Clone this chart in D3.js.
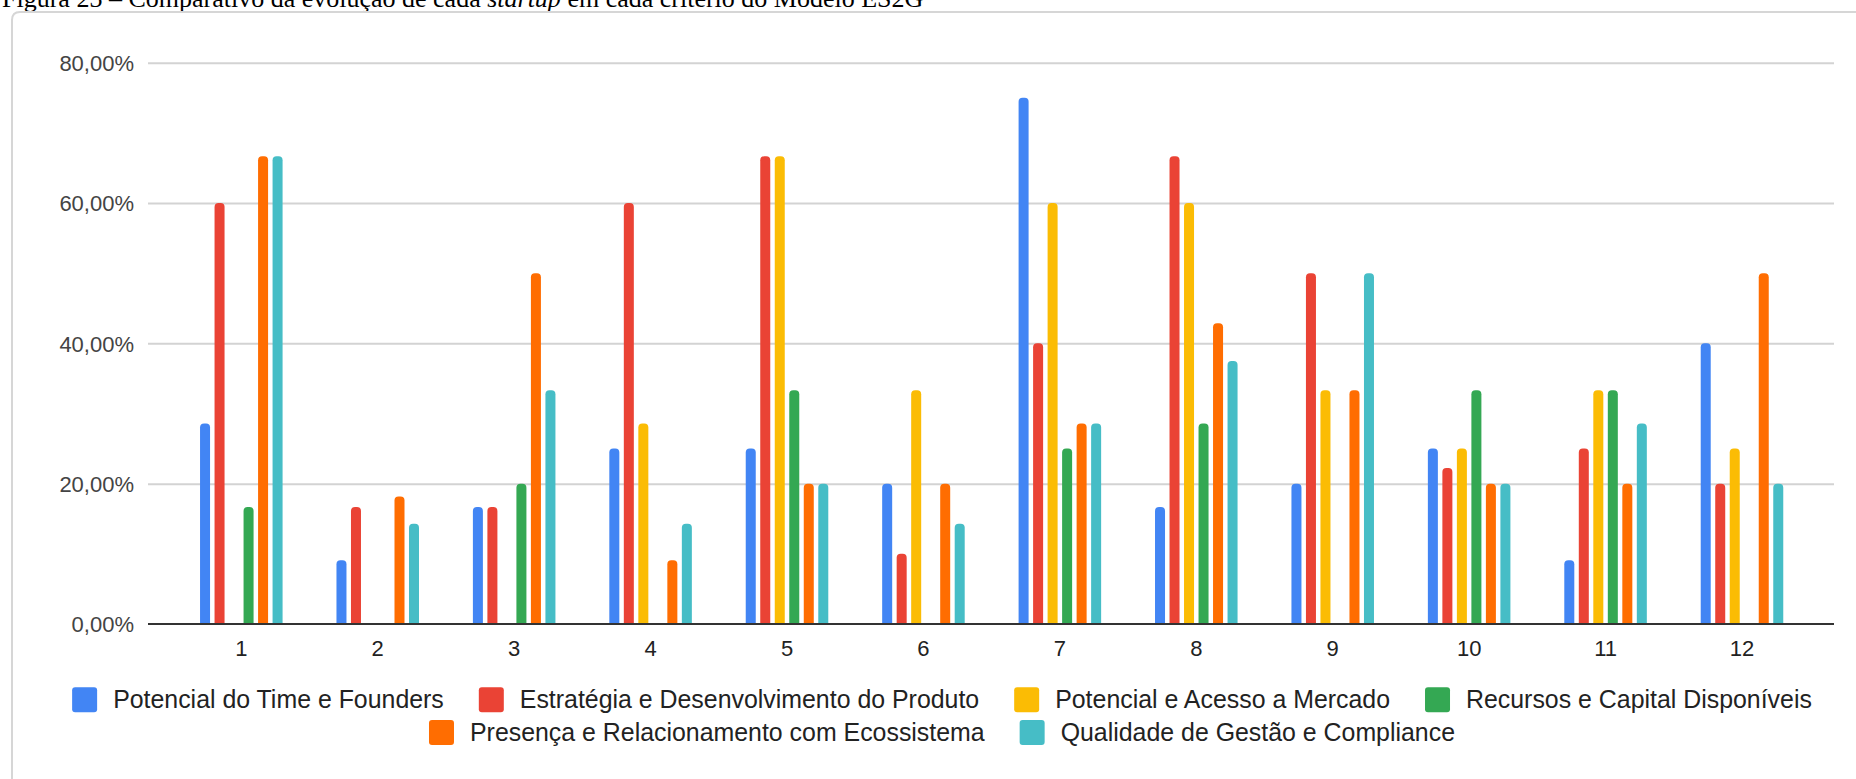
<!DOCTYPE html>
<html>
<head>
<meta charset="utf-8">
<script src="https://cdn.jsdelivr.net/npm/d3@7"></script>
<style>
  html, body { margin: 0; padding: 0; background: #fff; }
  svg { display: block; }
</style>
</head>
<body>
<svg id="chart" width="1856" height="779"></svg>
<script>
// ---- data -------------------------------------------------------------
const categories = ["1", "2", "3", "4", "5", "6", "7", "8", "9", "10", "11", "12"];

const seriesNames = [
  "Potencial do Time e Founders",
  "Estratégia e Desenvolvimento do Produto",
  "Potencial e Acesso a Mercado",
  "Recursos e Capital Disponíveis",
  "Presença e Relacionamento com Ecossistema",
  "Qualidade de Gestão e Compliance"
];

// evolution per startup (percent); 0 = no evolution, no bar drawn
const timeFounders      = [28.57, 9.09, 16.67, 25, 25, 20, 75, 16.67, 20, 25, 9.09, 40];
const estrategiaProduto = [60, 16.67, 16.67, 60, 66.67, 10, 40, 66.67, 50, 22.22, 25, 20];
const acessoMercado     = [0, 0, 0, 28.57, 66.67, 33.33, 60, 60, 33.33, 25, 33.33, 25];
const recursosCapital   = [16.67, 0, 20, 0, 33.33, 0, 25, 28.57, 0, 33.33, 33.33, 0];
const ecossistema       = [66.67, 18.18, 50, 9.09, 20, 20, 28.57, 42.86, 33.33, 20, 20, 50];
const gestaoCompliance  = [66.67, 14.29, 33.33, 14.29, 20, 14.29, 28.57, 37.5, 50, 20, 28.57, 20];

const seriesValues = [timeFounders, estrategiaProduto, acessoMercado,
                      recursosCapital, ecossistema, gestaoCompliance];

const seriesColors = ["#4285F4", "#EA4335", "#FBBC04", "#34A853", "#FF6D01", "#46BDC6"];

const yTicks = [0, 20, 40, 60, 80];

const legendRows = [[0, 1, 2, 3], [4, 5]];

// ---- layout -----------------------------------------------------------
const W = 1856, H = 779;
const plotLeft = 148, plotRight = 1834;
const FONT = "Arial, 'Liberation Sans', sans-serif";

const svg = d3.select("#chart");
svg.append("rect").attr("width", W).attr("height", H).attr("fill", "#fff");

// caption above the frame (partly clipped by the top edge)
const caption = svg.append("text")
  .attr("x", 2).attr("y", 7)
  .attr("font-family", "'Liberation Serif', 'Times New Roman', serif")
  .attr("font-size", 26).attr("fill", "#000");
caption.append("tspan").text("Figura 23 – Comparativo da evolução de cada ");
caption.append("tspan").attr("font-style", "italic").text("startup");
caption.append("tspan").text(" em cada critério do Modelo ES2G");

// frame around the chart
svg.append("path")
  .attr("d", `M12,${H + 10} V20 Q12,12 20,12 H${W + 10}`)
  .attr("fill", "none").attr("stroke", "#d6d6d6").attr("stroke-width", 2);

// scales
const y = d3.scaleLinear().domain([0, 80]).range([624, 62.7]);

const x0 = d3.scaleBand().domain(categories)
  .range([173.1, 1810.2]).paddingInner(0.362).paddingOuter(0.181);

const x1 = d3.scaleBand().domain(d3.range(seriesNames.length))
  .range([0, x0.bandwidth()]).paddingInner(0.31).paddingOuter(0.155);

// gridlines + y labels
const yFmt = d3.formatLocale({ decimal: ",", thousands: ".", grouping: [3], currency: ["R$", ""] })
  .format(".2f");

const yAxis = svg.append("g")
  .call(d3.axisLeft(y).tickValues(yTicks).tickSize(0).tickPadding(0)
    .tickFormat(d => yFmt(d) + "%"));
yAxis.select(".domain").remove();
yAxis.selectAll(".tick line").remove();
yAxis.selectAll(".tick").append("line")
  .attr("x1", plotLeft).attr("x2", plotRight)
  .attr("stroke", d => d === 0 ? "none" : "#d3d3d3").attr("stroke-width", 2);
yAxis.selectAll(".tick text")
  .attr("x", 134).attr("dy", "0.35em")
  .attr("font-family", FONT).attr("font-size", 22).attr("fill", "#444")
  .attr("text-anchor", "end");

// bars with rounded tops
function barPath(x, w, yTop, yBase, r) {
  const rr = Math.min(r, w / 2, (yBase - yTop));
  return `M${x},${yBase} V${yTop + rr} Q${x},${yTop} ${x + rr},${yTop} ` +
         `H${x + w - rr} Q${x + w},${yTop} ${x + w},${yTop + rr} V${yBase} Z`;
}

const bars = [];
categories.forEach((c, ci) => {
  seriesValues.forEach((vals, si) => {
    if (vals[ci] > 0) bars.push({ c, si, v: vals[ci] });
  });
});

svg.append("g").selectAll("path").data(bars).join("path")
  .attr("d", d => barPath(x0(d.c) + x1(d.si), x1.bandwidth(), y(d.v), y(0), 4))
  .attr("fill", d => seriesColors[d.si]);

// baseline
svg.append("line")
  .attr("x1", plotLeft).attr("x2", plotRight)
  .attr("y1", y(0)).attr("y2", y(0))
  .attr("stroke", "#333").attr("stroke-width", 2);

// x labels
const xAxis = svg.append("g").attr("transform", `translate(0,${y(0)})`)
  .call(d3.axisBottom(x0).tickSize(0).tickPadding(0));
xAxis.select(".domain").remove();
xAxis.selectAll(".tick text")
  .attr("y", 32).attr("dy", 0)
  .attr("font-family", FONT).attr("font-size", 22).attr("fill", "#222");

// legend
const legendCenter = 942;
const rowY = [699.7, 732.5];
const sq = 25, gapText = 16, gapItem = 35, legendFont = 24.9;

legendRows.forEach((row, ri) => {
  const g = svg.append("g");
  const items = row.map(si => {
    const it = g.append("g");
    it.append("rect").attr("width", sq).attr("height", sq).attr("rx", 3)
      .attr("y", rowY[ri] - sq / 2).attr("fill", seriesColors[si]);
    const t = it.append("text").attr("x", sq + gapText).attr("y", rowY[ri])
      .attr("dy", "0.35em").attr("font-family", FONT).attr("font-size", legendFont)
      .attr("fill", "#222").text(seriesNames[si]);
    return { it, w: sq + gapText + t.node().getComputedTextLength() };
  });
  const total = d3.sum(items, d => d.w) + gapItem * (items.length - 1);
  let cx = legendCenter - total / 2;
  items.forEach(d => {
    d.it.attr("transform", `translate(${cx},0)`);
    cx += d.w + gapItem;
  });
});
</script>
</body>
</html>
